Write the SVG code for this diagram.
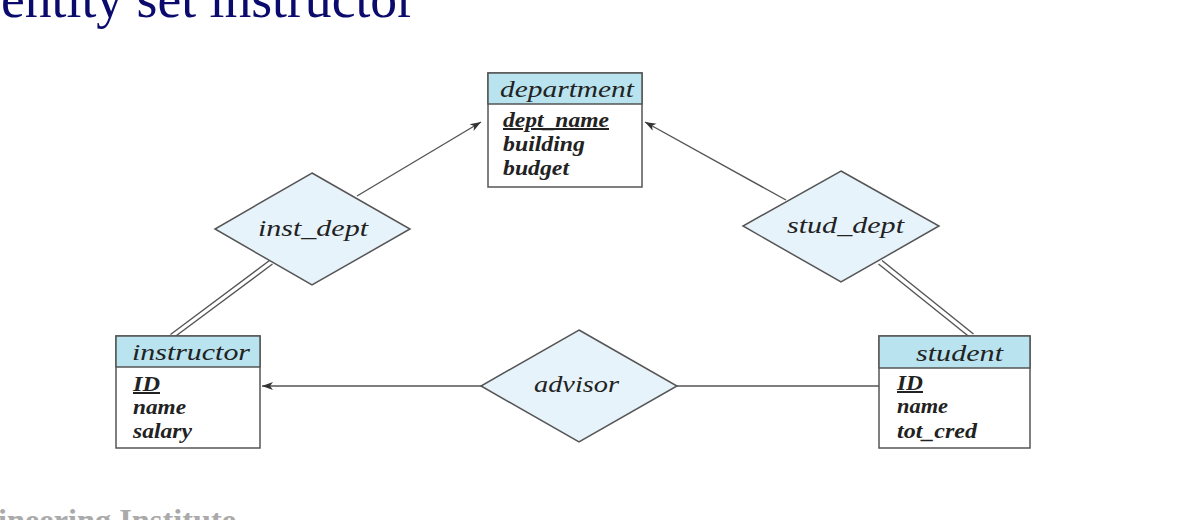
<svg xmlns="http://www.w3.org/2000/svg" width="1182" height="520" viewBox="0 0 1182 520">
<style>
.box{fill:#fff;stroke:#555;stroke-width:1.5}
.hdr{fill:#b9e3ef;stroke:#555;stroke-width:1.5}
.rel{fill:#e6f3fa;stroke:#555;stroke-width:1.5}
.t{font-family:"Liberation Serif","DejaVu Serif",serif;font-style:italic;fill:#222}
.h{font-size:24px}
.a{font-size:20px;font-weight:bold}
.r{font-size:24px}
.ln{stroke:#555;stroke-width:1.4;fill:none}
</style>
<defs>
<marker id="arr" markerWidth="12" markerHeight="10" refX="11" refY="5" orient="auto" markerUnits="userSpaceOnUse">
<path d="M0,1 L11,5 L0,9 L3,5 Z" fill="#333"/>
</marker>
</defs>
<rect width="1182" height="520" fill="#fff"/>
<text x="1" y="17" font-family="Liberation Serif,serif" font-size="54" fill="#0b0b6e" textLength="414" lengthAdjust="spacingAndGlyphs">entity set instructor</text>
<text x="-2" y="531" font-family="Liberation Serif,serif" font-size="32" font-weight="bold" fill="#aaa" textLength="238" lengthAdjust="spacingAndGlyphs">ineering Institute</text>

<g id="connectors">
<line class="ln" x1="357" y1="196" x2="481" y2="122" marker-end="url(#arr)"/>
<line class="ln" x1="786" y1="200" x2="645" y2="122" marker-end="url(#arr)"/>
<line class="ln" x1="481" y1="386" x2="262" y2="386" marker-end="url(#arr)"/>
<line class="ln" x1="677" y1="386" x2="879" y2="386"/>
<line class="ln" x1="269.5" y1="260.5" x2="170.5" y2="334.5"/>
<line class="ln" x1="272.5" y1="264" x2="174.5" y2="337"/>
<line class="ln" x1="878.5" y1="264" x2="969.5" y2="337"/>
<line class="ln" x1="882" y1="260.5" x2="973.5" y2="334"/>
</g>

<g id="department">
<rect class="box" x="488" y="73" width="154" height="114"/>
<rect class="hdr" x="488" y="73" width="154" height="31"/>
<text class="t h" x="567" y="97" text-anchor="middle" textLength="134" lengthAdjust="spacingAndGlyphs">department</text>
<text class="t a" x="503" y="127" text-decoration="underline" textLength="106" lengthAdjust="spacingAndGlyphs">dept_name</text>
<text class="t a" x="503" y="151" textLength="82" lengthAdjust="spacingAndGlyphs">building</text>
<text class="t a" x="503" y="175" textLength="66" lengthAdjust="spacingAndGlyphs">budget</text>
</g>

<g id="instructor">
<rect class="box" x="116" y="336" width="144" height="112"/>
<rect class="hdr" x="116" y="336" width="144" height="31"/>
<text class="t h" x="191" y="360" text-anchor="middle" textLength="118" lengthAdjust="spacingAndGlyphs">instructor</text>
<text class="t a" x="133" y="391" text-decoration="underline" textLength="27" lengthAdjust="spacingAndGlyphs">ID</text>
<text class="t a" x="133" y="414" textLength="53" lengthAdjust="spacingAndGlyphs">name</text>
<text class="t a" x="133" y="438" textLength="59" lengthAdjust="spacingAndGlyphs">salary</text>
</g>

<g id="student">
<rect class="box" x="879" y="336" width="151" height="112"/>
<rect class="hdr" x="879" y="336" width="151" height="32"/>
<text class="t h" x="959.5" y="361" text-anchor="middle" textLength="87" lengthAdjust="spacingAndGlyphs">student</text>
<text class="t a" x="897" y="390" text-decoration="underline" textLength="26" lengthAdjust="spacingAndGlyphs">ID</text>
<text class="t a" x="897" y="413" textLength="51" lengthAdjust="spacingAndGlyphs">name</text>
<text class="t a" x="897" y="438" textLength="80" lengthAdjust="spacingAndGlyphs">tot_cred</text>
</g>

<g id="inst_dept">
<polygon class="rel" points="312,173 410,229 312,285 215,229"/>
<text class="t r" x="313" y="236" text-anchor="middle" textLength="110" lengthAdjust="spacingAndGlyphs">inst_dept</text>
</g>

<g id="stud_dept">
<polygon class="rel" points="841,171 939,226 841,282 743,226"/>
<text class="t r" x="845.5" y="233" text-anchor="middle" textLength="117" lengthAdjust="spacingAndGlyphs">stud_dept</text>
</g>

<g id="advisor">
<polygon class="rel" points="579,330 677,386 579,442 481,386"/>
<text class="t r" x="576.5" y="392" text-anchor="middle" textLength="85" lengthAdjust="spacingAndGlyphs">advisor</text>
</g>
</svg>
